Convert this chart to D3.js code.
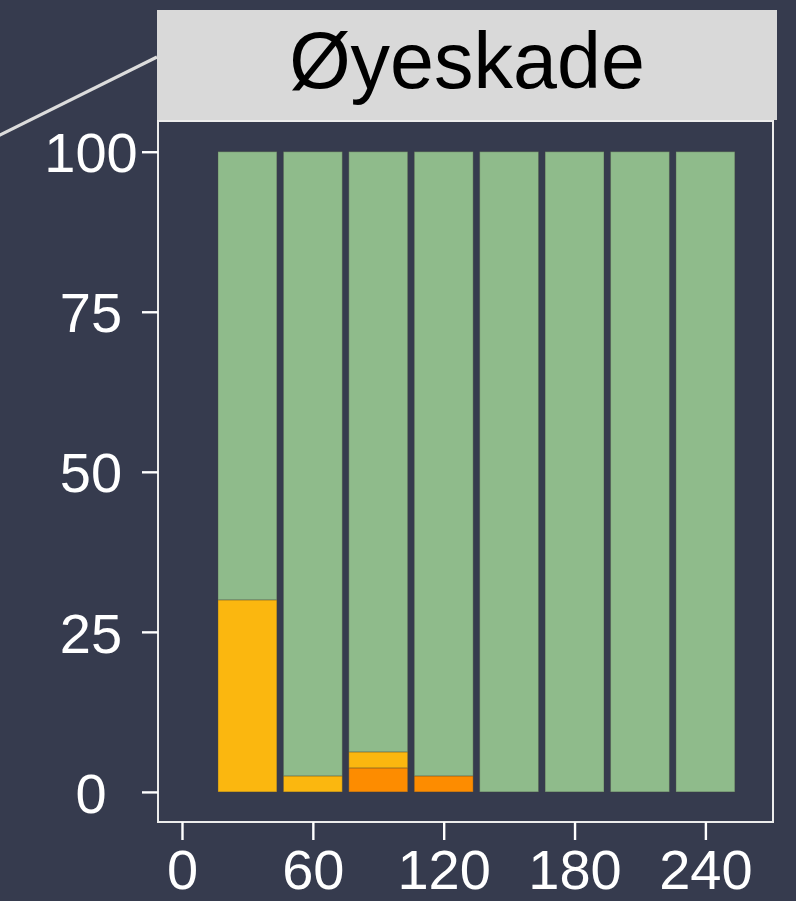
<!DOCTYPE html>
<html>
<head>
<meta charset="utf-8">
<script src="https://cdn.jsdelivr.net/npm/d3@7"></script>
<style>
  html, body { margin: 0; padding: 0; background: #363b4e; }
  svg { display: block; }
  text { font-family: "Liberation Sans", Arial, Helvetica, sans-serif; }
</style>
</head>
<body>
<svg id="chart" width="796" height="901"></svg>
<script>
// Minutes after exposure (bar positions on the x axis)
const minutes = [30, 60, 90, 120, 150, 180, 210, 240];
// Share of animals (%) in each severity group, stacked bottom to top
const severe   = [0, 0, 3.75, 2.5, 0, 0, 0, 0];
const moderate = [30, 2.5, 2.5, 0, 0, 0, 0, 0];
const none     = [70, 97.5, 93.75, 97.5, 100, 100, 100, 100];
const seriesKeys = ["severe", "moderate", "none"];
const seriesColors = ["#fd8c00", "#fbb70f", "#8fbb8b"];
const xTicks = [0, 60, 120, 180, 240];
const yTicks = [0, 25, 50, 75, 100];
const facetTitle = "Øyeskade";

const rows = minutes.map((m, i) => ({ minute: m, severe: severe[i], moderate: moderate[i], none: none[i] }));

const svg = d3.select("#chart");
const panel = { left: 158, right: 773, top: 121, bottom: 822 };
const strip = { left: 157, right: 777, top: 10, bottom: 120 };

const x = d3.scaleLinear().domain([-11, 271]).range([panel.left, panel.right]);
const y = d3.scaleLinear().domain([-4.7, 104.8]).range([panel.bottom, panel.top]);
const color = d3.scaleOrdinal().domain(seriesKeys).range(seriesColors);

// connector line running into the facet strip
svg.append("line")
  .attr("x1", -20).attr("y1", 57 + 177 * 0.497)
  .attr("x2", strip.left).attr("y2", 57)
  .attr("stroke", "#dcdcdc").attr("stroke-width", 3.2);

// facet strip
svg.append("rect")
  .attr("x", strip.left).attr("y", strip.top)
  .attr("width", strip.right - strip.left).attr("height", strip.bottom - strip.top)
  .attr("fill", "#d9d9d9");
svg.append("text")
  .attr("x", (strip.left + strip.right) / 2).attr("y", 88)
  .attr("text-anchor", "middle")
  .attr("font-size", 79)
  .attr("fill", "#000")
  .text(facetTitle);

// stacked bars
const stacked = d3.stack().keys(seriesKeys)(rows);
const barW = x(27) - x(0);
svg.append("g").selectAll("g")
  .data(stacked).join("g")
  .attr("fill", d => color(d.key))
  .selectAll("rect")
  .data(d => d.filter(s => s[1] - s[0] > 0))
  .join("rect")
  .attr("x", d => x(d.data.minute) - barW / 2)
  .attr("width", barW)
  .attr("y", d => y(d[1]))
  .attr("height", d => y(d[0]) - y(d[1]))
  .attr("stroke", "rgba(70,70,60,0.35)")
  .attr("stroke-width", 1);

// panel border
svg.append("rect")
  .attr("x", panel.left).attr("y", panel.top)
  .attr("width", panel.right - panel.left).attr("height", panel.bottom - panel.top)
  .attr("fill", "none").attr("stroke", "#ececec").attr("stroke-width", 2);

// y axis
const yAxis = svg.append("g")
  .attr("transform", `translate(${panel.left},0)`)
  .call(d3.axisLeft(y).tickValues(yTicks).tickSize(16).tickPadding(0));
yAxis.select(".domain").remove();
yAxis.selectAll(".tick line").attr("stroke", "#fff").attr("stroke-width", 2.4);
yAxis.selectAll(".tick text")
  .attr("x", 91 - panel.left)
  .attr("text-anchor", "middle")
  .attr("dy", "0.36em")
  .attr("font-size", 56)
  .attr("font-family", "Liberation Sans, Arial, sans-serif")
  .attr("fill", "#fff");

// x axis
const xAxis = svg.append("g")
  .attr("transform", `translate(0,${panel.bottom})`)
  .call(d3.axisBottom(x).tickValues(xTicks).tickSize(18).tickPadding(0));
xAxis.select(".domain").remove();
xAxis.selectAll(".tick line").attr("stroke", "#fff").attr("stroke-width", 2.4);
xAxis.selectAll(".tick text")
  .attr("y", 67)
  .attr("dy", 0)
  .attr("text-anchor", "middle")
  .attr("font-size", 56)
  .attr("font-family", "Liberation Sans, Arial, sans-serif")
  .attr("fill", "#fff");
</script>
</body>
</html>
